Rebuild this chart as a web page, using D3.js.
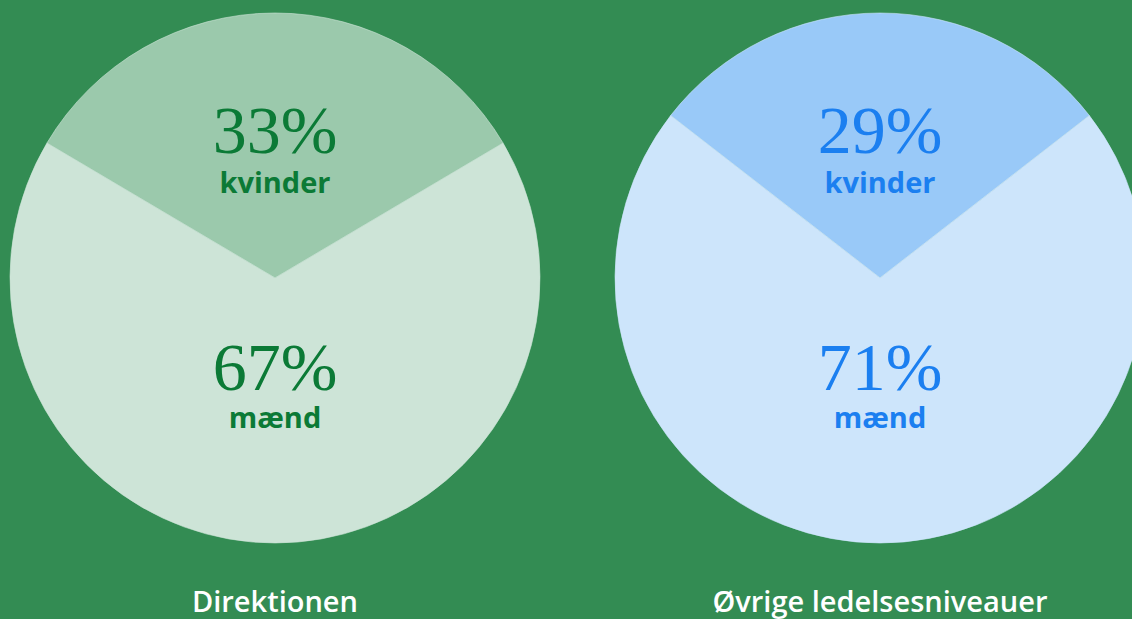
<!DOCTYPE html>
<html><head><meta charset="utf-8">
<script src="https://cdn.jsdelivr.net/npm/d3@7"></script>
<style>html,body{margin:0;padding:0;background:#338c53;}svg{display:block;}</style>
</head><body>
<svg id="c" width="1132" height="619"></svg>
<script>
const groups = ["Direktionen", "Øvrige ledelsesniveauer"];
const categories = ["kvinder", "mænd"];
const womenPct = [33, 29];
const menPct = [67, 71];
const sliceColors = [["#9bc9ac", "#cde4d7"], ["#99c9f8", "#cde5fb"]];
const textColors = ["#0b7a36", "#1b7ff0"];

const W = 1132, H = 619;
const svg = d3.select("#c");
svg.append("rect").attr("width", W).attr("height", H).attr("fill", "#338c53");

const x = d3.scalePoint().domain(groups).range([275, 880]);
const R = 265, cy = 278;

groups.forEach((g, i) => {
  const data = [{cat: categories[0], v: womenPct[i]}, {cat: categories[1], v: menPct[i]}];
  const w = womenPct[i] / 100 * Math.PI;
  const pie = d3.pie().value(d => d.v).sort(null).startAngle(-w).endAngle(2 * Math.PI - w);
  const arc = d3.arc().innerRadius(0).outerRadius(R);
  const gg = svg.append("g").attr("transform", `translate(${x(g)},${cy})`);
  gg.selectAll("path").data(pie(data)).join("path")
    .attr("d", arc)
    .attr("fill", (d, j) => sliceColors[i][j])
    .attr("stroke", (d, j) => sliceColors[i][1])
    .attr("stroke-width", 0.6);

  const numY = [153, 390], labY = [193, 428];
  data.forEach((d, j) => {
    gg.append("text").attr("x", 0).attr("y", numY[j] - cy)
      .attr("text-anchor", "middle")
      .attr("font-family", "'Liberation Serif', serif")
      .attr("font-size", 68)
      .attr("fill", textColors[i])
      .text(d.v + "%");
    gg.append("text").attr("x", 0).attr("y", labY[j] - cy)
      .attr("text-anchor", "middle")
      .attr("font-family", "'Open Sans', sans-serif")
      .attr("font-weight", 700)
      .attr("font-size", 29)
      .attr("fill", textColors[i])
      .text(d.cat);
  });

  svg.append("text").attr("x", x(g)).attr("y", 612)
    .attr("text-anchor", "middle")
    .attr("font-family", "'Open Sans', sans-serif")
    .attr("font-weight", 600)
    .attr("font-size", 29)
    .attr("fill", "#ffffff")
    .text(g);
});
</script>
</body></html>
